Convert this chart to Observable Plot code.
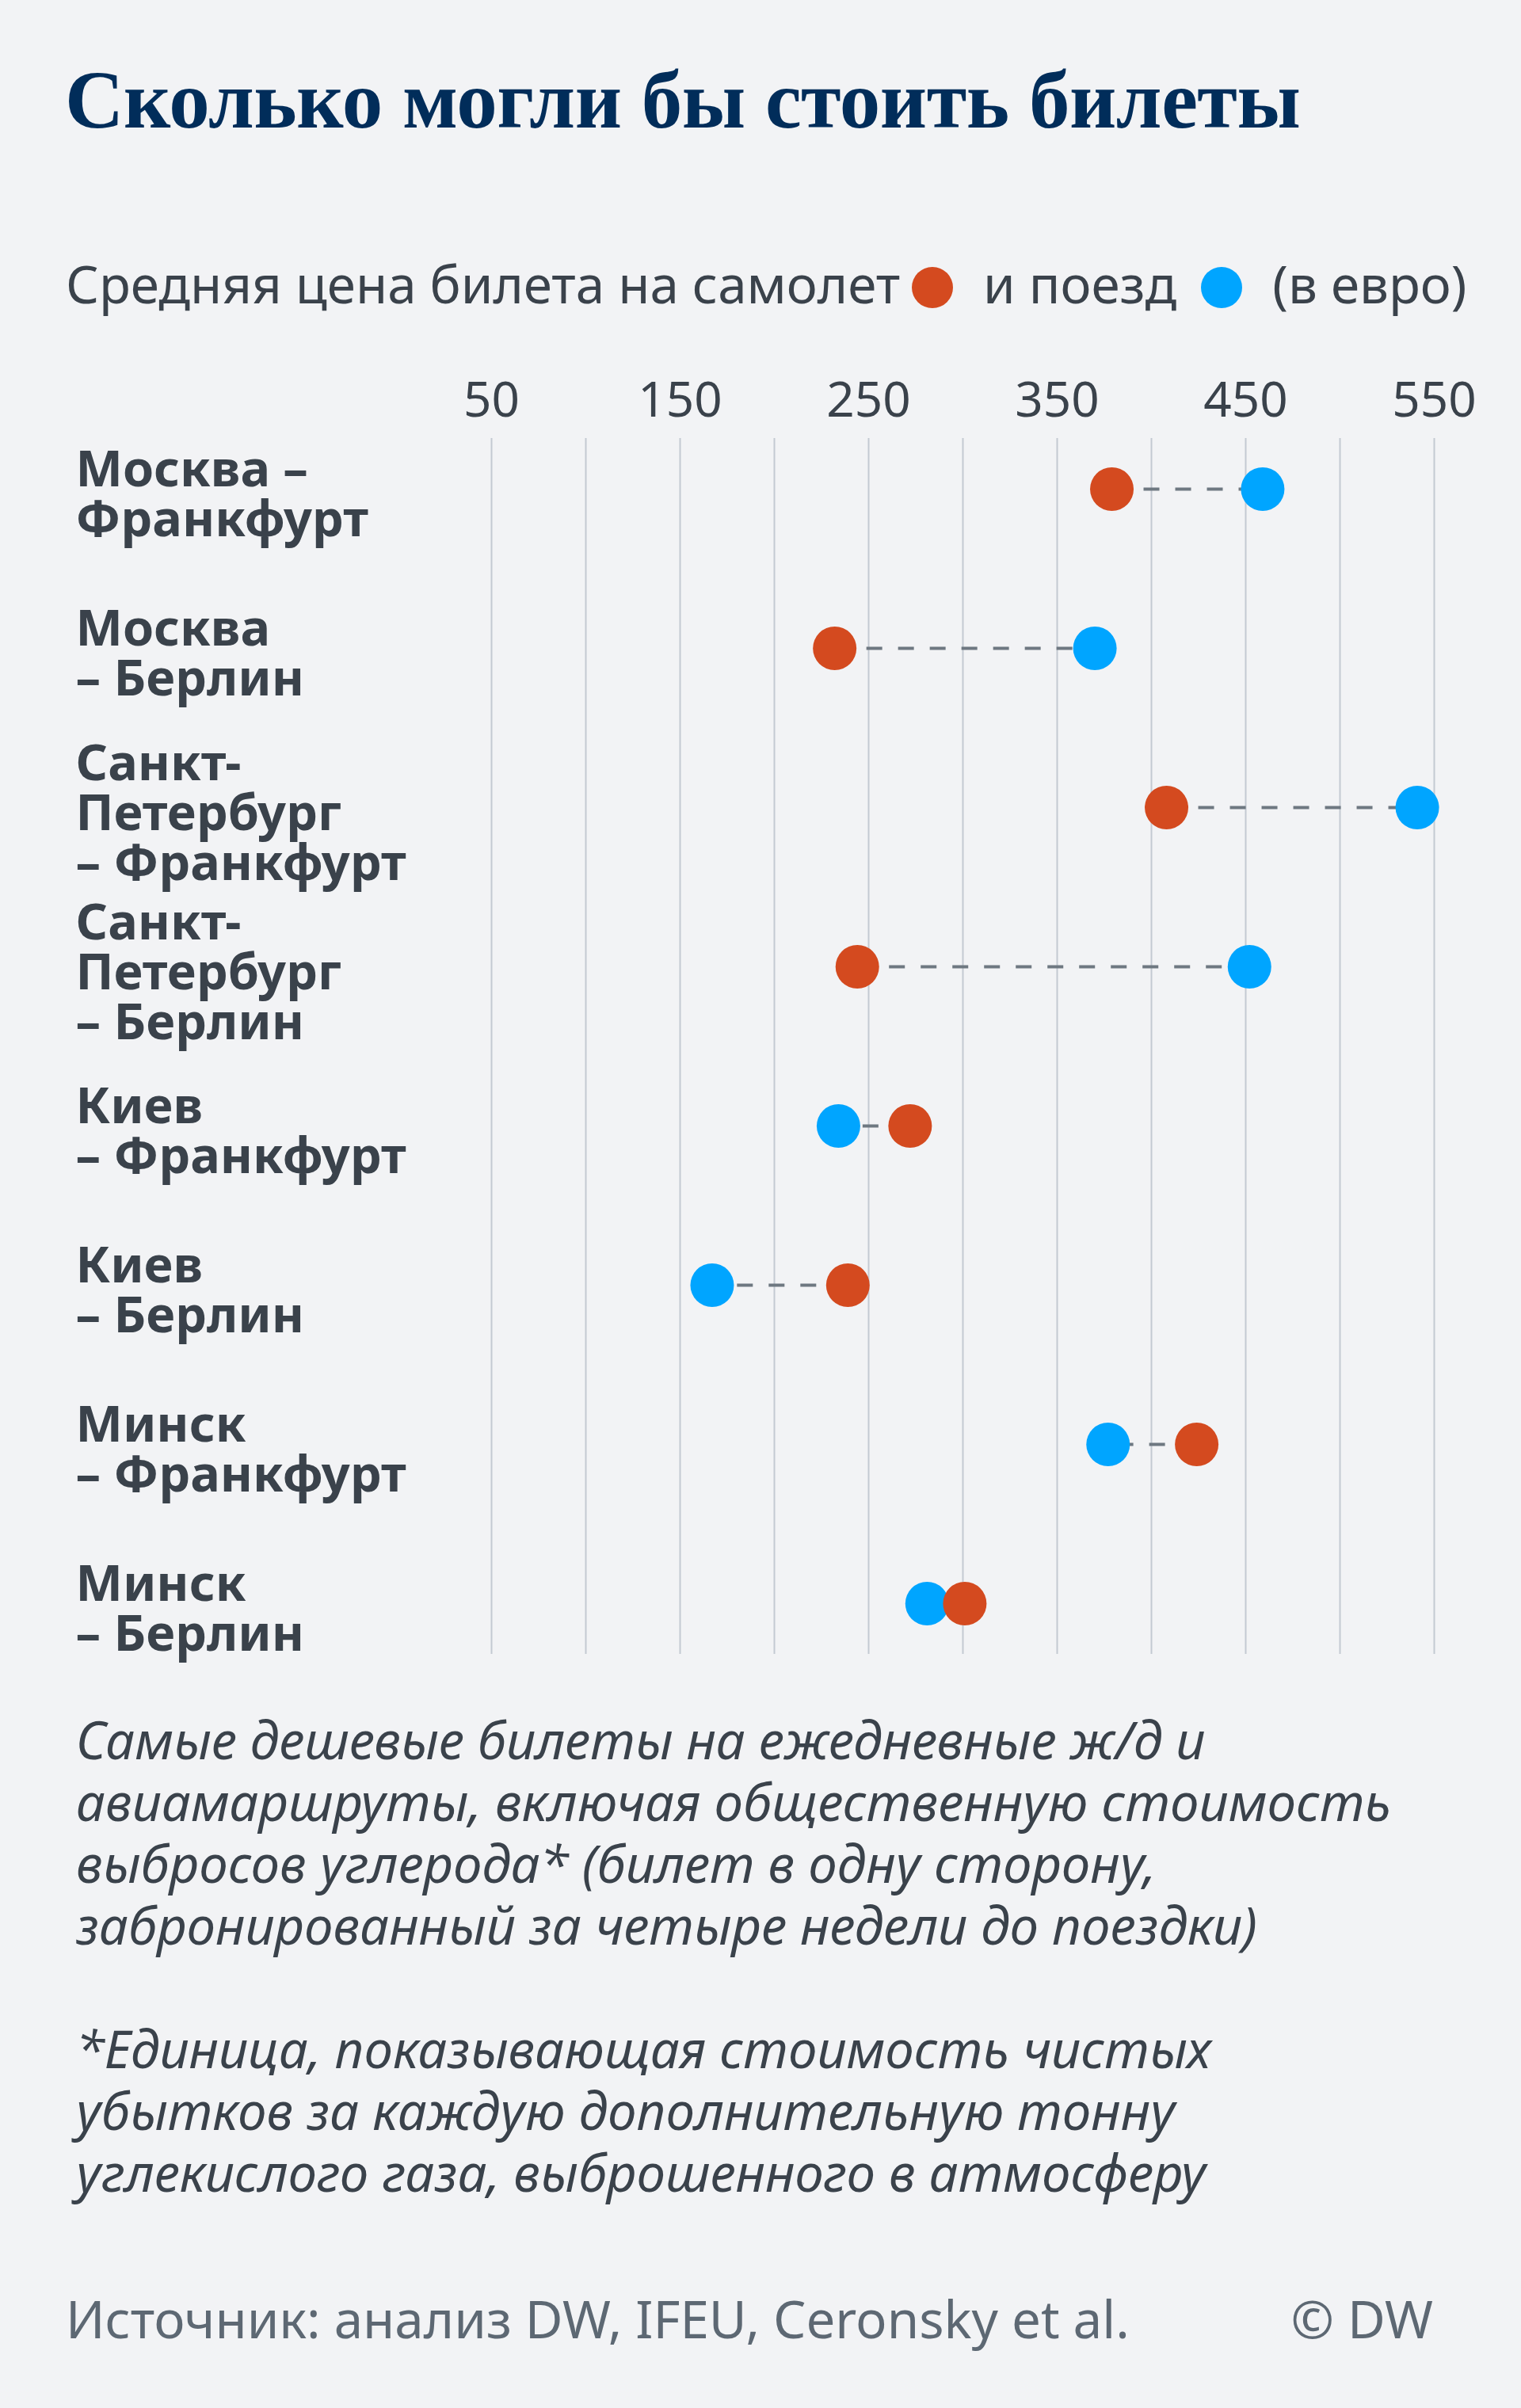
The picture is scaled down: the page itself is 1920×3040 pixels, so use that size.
<!DOCTYPE html>
<html>
<head>
<meta charset="utf-8">
<script src="https://cdn.jsdelivr.net/npm/d3@7"></script>
<script src="https://cdn.jsdelivr.net/npm/@observablehq/plot@0.6"></script>
<style>
  html, body { margin: 0; padding: 0; background: #f2f3f5; }
  #page { position: relative; width: 1920px; height: 3040px; background: #f2f3f5; overflow: hidden; }
  .t { position: absolute; white-space: nowrap; }
  #title { left: 82px; top: 74px; font-family: "Liberation Serif", serif; font-weight: 700; font-size: 103px; line-height: 104px; color: #012d5a; letter-spacing: -0.5px; }
  #subtitle { left: 83px; top: 318px; font-family: "Noto Sans", sans-serif; font-size: 65.5px; line-height: 80px; color: #3a424b; }
  .ldot { display: inline-block; width: 52px; height: 52px; border-radius: 50%; vertical-align: -6px; }
  #chart { position: absolute; left: 0; top: 430px; }
  #caption { left: 96px; top: 2157px; font-family: "Noto Sans", sans-serif; font-style: italic; font-size: 65.3px; line-height: 78px; color: #3a424b; white-space: pre; }
  #source { left: 83px; top: 2888px; font-family: "Noto Sans", sans-serif; font-size: 65.5px; line-height: 78px; color: #5d6873; }
  #copy { right: 111px; top: 2888px; font-family: "Noto Sans", sans-serif; font-size: 65.5px; line-height: 78px; color: #5d6873; }
</style>
</head>
<body>
<div id="page">
  <div class="t" id="title">Сколько могли бы стоить билеты</div>
  <div class="t" id="subtitle">Средняя цена билета на самолет<span class="ldot" style="background:#d44a1f;margin-left:15px;margin-right:38px"></span>и поезд <span class="ldot" style="background:#00a5ff;margin-left:14px;margin-right:38px"></span>(в евро)</div>
  <div id="chart"></div>
  <div class="t" id="caption">Самые дешевые билеты на ежедневные ж/д и
авиамаршруты, включая общественную стоимость
выбросов углерода* (билет в одну сторону,
забронированный за четыре недели до поездки)

*Единица, показывающая стоимость чистых
убытков за каждую дополнительную тонну
углекислого газа, выброшенного в атмосферу</div>
  <div class="t" id="source">Источник: анализ DW, IFEU, Ceronsky et al.</div>
  <div class="t" id="copy">© DW</div>
</div>
<script>
const routes = [
  "Москва –\nФранкфурт",
  "Москва\n– Берлин",
  "Санкт-\nПетербург\n– Франкфурт",
  "Санкт-\nПетербург\n– Берлин",
  "Киев\n– Франкфурт",
  "Киев\n– Берлин",
  "Минск\n– Франкфурт",
  "Минск\n– Берлин"
];
const planePrice = [379, 232, 408, 244, 272, 239, 424, 301];
const trainPrice = [459, 370, 541, 452, 234, 167, 377, 281];
const tickValues = [50, 150, 250, 350, 450, 550];
const gridValues = [50, 100, 150, 200, 250, 300, 350, 400, 450, 500, 550];

const data = routes.map((route, i) => ({route, plane: planePrice[i], train: trainPrice[i]}));

const chart = Plot.plot({
  width: 1920,
  height: 1700,
  marginTop: 123,
  marginBottom: 42,
  marginLeft: 620,
  marginRight: 110,
  style: {background: "transparent", fontFamily: "Noto Sans, sans-serif", color: "#3a424b", overflow: "visible"},
  x: {domain: [50, 550], axis: null},
  y: {type: "point", domain: routes, padding: 0.3125, axis: null},
  marks: [
    Plot.gridX(gridValues, {stroke: "#c3cad2", strokeOpacity: 1, strokeWidth: 2}),
    Plot.axisX(tickValues, {anchor: "top", tickSize: 0, tickPadding: 28, fontSize: 62, fill: "#3a424b"}),
    Plot.link(data, {x1: "plane", x2: "train", y1: "route", y2: "route", stroke: "#6e7881", strokeWidth: 4, strokeDasharray: "20,20"}),
    Plot.dot(data, {x: "train", y: "route", r: 27.5, fill: "#00a5ff", stroke: null}),
    Plot.dot(data, {x: "plane", y: "route", r: 27.5, fill: "#d44a1f", stroke: null}),
    Plot.text(data, {y: "route", text: "route", frameAnchor: "left", dx: -525, dy: 8, textAnchor: "start", lineAnchor: "middle", lineHeight: 1.0, fontSize: 63, fontWeight: 700, fill: "#3a424b"})
  ]
});
document.getElementById("chart").appendChild(chart);
</script>
</body>
</html>
